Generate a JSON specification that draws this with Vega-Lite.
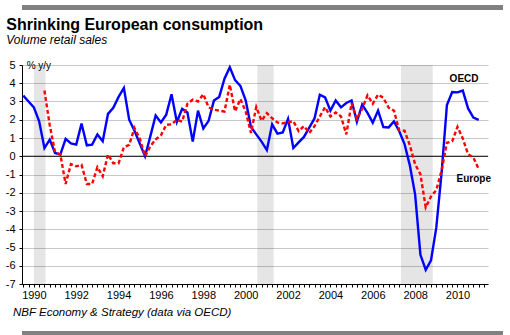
{
"$schema": "https://vega.github.io/schema/vega-lite/v6.json",
"padding": {"left": 5, "right": 7, "top": 5, "bottom": 0},
"background": "white",
"columns": 1,
"align": "none",
"spacing": 6,
"config": {"font": "Liberation Sans", "view": {"stroke": null}},
"datasets": {
"series": [
{"t":1989.5,"o":3.32},{"t":1989.75,"o":3.0},{"t":1990,"o":2.68},{"t":1990.25,"o":1.92},
{"t":1990.5,"o":0.45,"e":3.6},{"t":1990.75,"o":0.91,"e":1.7},{"t":1991,"o":0.18,"e":0.22},{"t":1991.25,"o":0.09,"e":0.1},
{"t":1991.5,"o":0.95,"e":-1.52},{"t":1991.75,"o":0.7,"e":-0.43},{"t":1992,"o":0.64,"e":-0.55},{"t":1992.25,"o":1.79,"e":-0.47},
{"t":1992.5,"o":0.6,"e":-1.52},{"t":1992.75,"o":0.64,"e":-1.52},{"t":1993,"o":1.19,"e":-0.6},{"t":1993.25,"o":0.82,"e":-1.1},
{"t":1993.5,"o":2.32,"e":0.1},{"t":1993.75,"o":2.65,"e":-0.38},{"t":1994,"o":3.25,"e":-0.38},{"t":1994.25,"o":3.74,"e":0.5},
{"t":1994.5,"o":2.0,"e":0.62},{"t":1994.75,"o":1.4,"e":1.55},{"t":1995,"o":0.7,"e":0.97},{"t":1995.25,"o":0.0,"e":0.0},
{"t":1995.5,"o":1.1,"e":0.55},{"t":1995.75,"o":2.23,"e":0.92},{"t":1996,"o":1.85,"e":1.15},{"t":1996.25,"o":2.28,"e":1.72},
{"t":1996.5,"o":3.4,"e":1.75},{"t":1996.75,"o":1.88,"e":2.0},{"t":1997,"o":2.6,"e":1.9},{"t":1997.25,"o":2.4,"e":2.88},
{"t":1997.5,"o":0.8,"e":3.1},{"t":1997.75,"o":2.5,"e":3.0},{"t":1998,"o":1.52,"e":3.4},{"t":1998.25,"o":1.94,"e":2.68},
{"t":1998.5,"o":3.05,"e":2.55},{"t":1998.75,"o":3.25,"e":2.5},{"t":1999,"o":4.25,"e":2.45},{"t":1999.25,"o":4.88,"e":3.92},
{"t":1999.5,"o":4.17,"e":2.46},{"t":1999.75,"o":3.86,"e":3.14},{"t":2000,"o":3.07,"e":2.45},{"t":2000.25,"o":1.6,"e":1.28},
{"t":2000.5,"o":1.2,"e":2.7},{"t":2000.75,"o":0.8,"e":1.95},{"t":2001,"o":0.34,"e":2.36},{"t":2001.25,"o":1.75,"e":2.08},
{"t":2001.5,"o":1.24,"e":1.85},{"t":2001.75,"o":1.3,"e":1.8},{"t":2002,"o":2.05,"e":1.87},{"t":2002.25,"o":0.45,"e":1.92},
{"t":2002.5,"o":0.76,"e":1.38},{"t":2002.75,"o":1.06,"e":1.65},{"t":2003,"o":1.57,"e":1.28},{"t":2003.25,"o":2.07,"e":1.64},
{"t":2003.5,"o":3.37,"e":2.18},{"t":2003.75,"o":3.22,"e":2.69},{"t":2004,"o":2.5,"e":2.18},{"t":2004.25,"o":3.06,"e":2.4},
{"t":2004.5,"o":2.68,"e":2.18},{"t":2004.75,"o":2.92,"e":1.2},{"t":2005,"o":3.06,"e":2.9},{"t":2005.25,"o":1.89,"e":2.05},
{"t":2005.5,"o":2.83,"e":2.6},{"t":2005.75,"o":2.38,"e":3.34},{"t":2006,"o":1.84,"e":2.88},{"t":2006.25,"o":2.5,"e":3.38},
{"t":2006.5,"o":1.6,"e":3.2},{"t":2006.75,"o":1.58,"e":2.66},{"t":2007,"o":1.91,"e":2.5},{"t":2007.25,"o":1.37,"e":1.42},
{"t":2007.5,"o":0.67,"e":1.4},{"t":2007.75,"o":-0.5,"e":0.6},{"t":2008,"o":-2.1,"e":-0.44},{"t":2008.25,"o":-5.4,"e":-0.98},
{"t":2008.5,"o":-6.22,"e":-2.8},{"t":2008.75,"o":-5.7,"e":-2.2},{"t":2009,"o":-3.9,"e":-1.85},{"t":2009.25,"o":-0.9,"e":-0.78},
{"t":2009.5,"o":2.8,"e":0.74},{"t":2009.75,"o":3.52,"e":0.82},{"t":2010,"o":3.5,"e":1.61},{"t":2010.25,"o":3.6,"e":0.97},
{"t":2010.5,"o":2.62,"e":0.11},{"t":2010.75,"o":2.12,"e":-0.07},{"t":2011,"o":1.99,"e":-0.7}
],
"rec": [{"t":1990.0,"t2":1990.55},{"t":2000.55,"t2":2001.32},{"t":2007.33,"t2":2008.83}],
"labels": [{"t":2010.31,"v":4.22,"label":"OECD"},{"t":2010.77,"v":-1.22,"label":"Europe"}],
"unit": [{"t":1989.66,"v":4.97,"label":"% y/y"}],
"bar": [{"a":0,"b":1,"c":0,"d":1}]
},
"concat": [
{
"width": 481, "height": 5,
"view": {"fill": "#808080"},
"data": {"name": "bar"},
"mark": {"type": "rect", "fill": "#808080"},
"encoding": {
"x": {"field": "a", "type": "quantitative", "scale": {"domain": [0, 1], "nice": false, "zero": false}, "axis": null},
"x2": {"field": "b"},
"y": {"field": "c", "type": "quantitative", "scale": {"domain": [0, 1], "nice": false, "zero": false}, "axis": null},
"y2": {"field": "d"}
}
},
{
"width": 466, "height": 219,
"title": {"text": "Shrinking European consumption", "subtitle": "Volume retail sales", "anchor": "start", "frame": "bounds", "dx": 1, "fontSize": 16, "fontWeight": "bold", "color": "#000", "subtitleFontSize": 12, "subtitleFontStyle": "italic", "subtitleColor": "#000", "subtitlePadding": 2, "offset": 13.5},
"data": {"name": "series"},
"layer": [
{
"data": {"name": "rec"},
"mark": {"type": "rect", "color": "#000", "opacity": 0.1},
"encoding": {
"x": {"field": "t", "type": "quantitative", "scale": {"domain": [1989.44, 2011.44], "nice": false, "zero": false},
"axis": {"title": null, "tickCount": 200, "values": [1989.5,1989.75,1990,1990.25,1990.5,1990.75,1991,1991.25,1991.5,1991.75,1992,1992.25,1992.5,1992.75,1993,1993.25,1993.5,1993.75,1994,1994.25,1994.5,1994.75,1995,1995.25,1995.5,1995.75,1996,1996.25,1996.5,1996.75,1997,1997.25,1997.5,1997.75,1998,1998.25,1998.5,1998.75,1999,1999.25,1999.5,1999.75,2000,2000.25,2000.5,2000.75,2001,2001.25,2001.5,2001.75,2002,2002.25,2002.5,2002.75,2003,2003.25,2003.5,2003.75,2004,2004.25,2004.5,2004.75,2005,2005.25,2005.5,2005.75,2006,2006.25,2006.5,2006.75,2007,2007.25,2007.5,2007.75,2008,2008.25,2008.5,2008.75,2009,2009.25,2009.5,2009.75,2010,2010.25,2010.5,2010.75,2011,2011.25],
"labelExpr": "datum.value % 2 == 0 ? '' + datum.value : ''", "labelOverlap": false, "labelFlush": false, "labelBound": false,
"grid": false, "tickSize": 3, "labelPadding": 2, "labelFontSize": 11, "labelColor": "#000", "domainColor": "#000", "tickColor": "#000", "domainWidth": 1}},
"x2": {"field": "t2"}
}
},
{
"data": {"values": [{}]},
"mark": {"type": "rule", "color": "#000", "strokeWidth": 1},
"encoding": {
"y": {"datum": 0, "type": "quantitative", "scale": {"domain": [-7, 5], "nice": false, "zero": false},
"axis": {"title": null, "tickCount": 40, "values": [-7,-6,-5,-4,-3,-2,-1,0,1,2,3,4,5], "labelExpr": "'' + datum.value", "labelOverlap": false, "grid": true, "gridColor": "#c8c8c8", "gridWidth": 1, "tickSize": 3, "labelPadding": 4, "labelFontSize": 11, "labelColor": "#000", "domainColor": "#000", "tickColor": "#000"}}
}
},
{
"mark": {"type": "line", "color": "#0000ff", "strokeWidth": 2.4},
"encoding": {
"x": {"field": "t", "type": "quantitative"},
"y": {"field": "o", "type": "quantitative"}
}
},
{
"transform": [{"filter": "isValid(datum.e)"}],
"mark": {"type": "line", "color": "#ff0000", "strokeWidth": 2.4, "strokeDash": [4, 2.5]},
"encoding": {
"x": {"field": "t", "type": "quantitative"},
"y": {"field": "e", "type": "quantitative"}
}
},
{
"data": {"name": "labels"},
"mark": {"type": "text", "fontWeight": "bold", "fontSize": 10, "align": "center", "baseline": "middle", "color": "#000"},
"encoding": {
"x": {"field": "t", "type": "quantitative"},
"y": {"field": "v", "type": "quantitative"},
"text": {"field": "label"}
}
},
{
"data": {"name": "unit"},
"mark": {"type": "text", "fontSize": 10, "align": "left", "baseline": "middle", "color": "#000"},
"encoding": {
"x": {"field": "t", "type": "quantitative"},
"y": {"field": "v", "type": "quantitative"},
"text": {"field": "label"}
}
}
]
},
{
"width": 481, "height": 5,
"view": {"fill": "#808080"},
"title": {"text": "NBF Economy & Strategy (data via OECD)", "anchor": "start", "frame": "group", "dx": -9, "fontSize": 11.5, "fontWeight": "normal", "fontStyle": "italic", "color": "#000", "offset": 13},
"data": {"name": "bar"},
"mark": {"type": "rect", "fill": "#808080"},
"encoding": {
"x": {"field": "a", "type": "quantitative", "scale": {"domain": [0, 1], "nice": false, "zero": false}, "axis": null},
"x2": {"field": "b"},
"y": {"field": "c", "type": "quantitative", "scale": {"domain": [0, 1], "nice": false, "zero": false}, "axis": null},
"y2": {"field": "d"}
}
}
]
}
